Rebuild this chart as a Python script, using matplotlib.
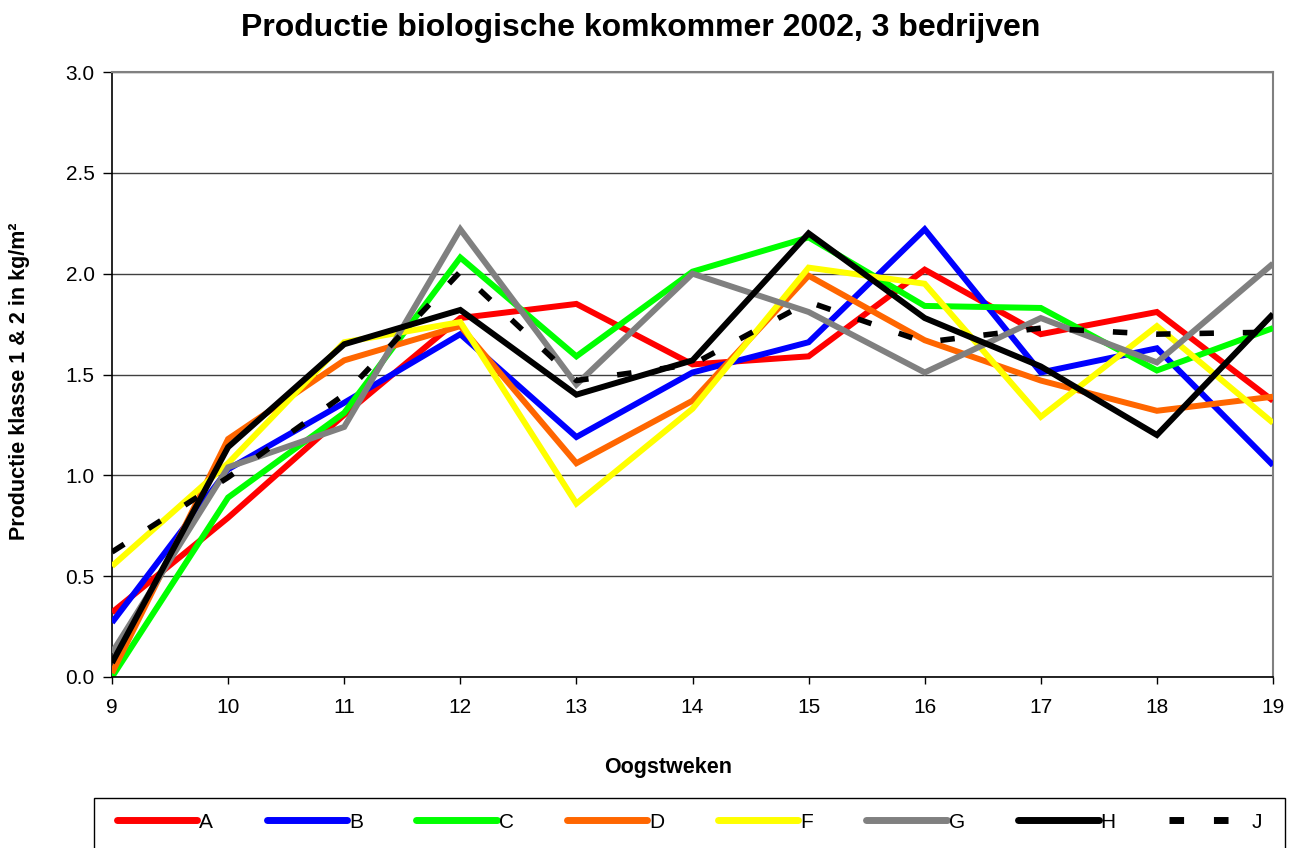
import matplotlib
matplotlib.use("Agg")
import matplotlib.pyplot as plt
from matplotlib.lines import Line2D
from matplotlib.patches import Rectangle

weeks = [9, 10, 11, 12, 13, 14, 15, 16, 17, 18, 19]
A = [0.32, 0.79, 1.30, 1.78, 1.85, 1.55, 1.59, 2.02, 1.70, 1.81, 1.37]
B = [0.27, 1.03, 1.36, 1.70, 1.19, 1.51, 1.66, 2.22, 1.51, 1.63, 1.05]
C = [0.00, 0.89, 1.31, 2.08, 1.59, 2.01, 2.18, 1.84, 1.83, 1.52, 1.73]
D = [0.02, 1.18, 1.57, 1.74, 1.06, 1.37, 1.99, 1.67, 1.47, 1.32, 1.39]
F = [0.55, 1.06, 1.66, 1.76, 0.86, 1.33, 2.03, 1.95, 1.29, 1.74, 1.26]
G = [0.12, 1.04, 1.24, 2.22, 1.45, 2.00, 1.81, 1.51, 1.78, 1.56, 2.05]
H = [0.07, 1.14, 1.65, 1.82, 1.40, 1.57, 2.20, 1.78, 1.54, 1.20, 1.80]
J = [0.62, 0.99, 1.40, 2.01, 1.47, 1.55, 1.86, 1.66, 1.73, 1.70, 1.71]

series_names = ["A", "B", "C", "D", "F", "G", "H", "J"]
series_values = [A, B, C, D, F, G, H, J]
series_colors = ["#ff0000", "#0000ff", "#00ff00", "#ff6600", "#ffff00", "#808080", "#000000", "#000000"]

yticks = [0.0, 0.5, 1.0, 1.5, 2.0, 2.5, 3.0]

plt.rcParams['font.family'] = ['Liberation Sans', 'DejaVu Sans']

fig = plt.figure(figsize=(12.94, 8.48), dpi=100)
ax = fig.add_axes([112/1294, 1-677/848, (1273-112)/1294, (677-72)/848])

for name, vals, col in zip(series_names, series_values, series_colors):
    if name == "J":
        ax.plot(weeks, vals, color=col, lw=4.0, linestyle=(0, (2.6, 5.2)),
                dash_capstyle='butt', label=name, zorder=5)
    else:
        ax.plot(weeks, vals, color=col, lw=4.3, solid_joinstyle='miter',
                solid_capstyle='butt', label=name, zorder=4)

ax.set_xlim(9, 19)
ax.set_ylim(0, 3.0)
ax.set_xticks(weeks)
ax.set_xticklabels([str(w) for w in weeks], fontsize=15)
ax.set_yticks(yticks)
ax.set_yticklabels([f"{t:.1f}" for t in yticks], fontsize=15)
ax.yaxis.grid(True, color="#404040", lw=1.0)
ax.set_axisbelow(True)
ax.tick_params(axis='x', direction='out', length=5, width=1, color='black', pad=10)
ax.tick_params(axis='y', direction='out', length=6.5, width=1, color='black', pad=6)
for s in ['top', 'right']:
    ax.spines[s].set_color('#808080')
    ax.spines[s].set_linewidth(1.5)
for s in ['left', 'bottom']:
    ax.spines[s].set_color('black')
    ax.spines[s].set_linewidth(1.2)
ax.spines['bottom'].set_zorder(6)

fig.text(641/1294, 1-28/848, "Productie biologische komkommer 2002, 3 bedrijven",
         ha='center', va='center', fontsize=23, fontweight='bold')
fig.text(668/1294, 1-768/848, "Oogstweken", ha='center', va='center',
         fontsize=15.5, fontweight='bold')
fig.text(20/1294, 1-381/848, "Productie klasse 1 & 2 in kg/m²", ha='center', va='center',
         rotation=90, fontsize=15.5, fontweight='bold')

# legend frame
fig.patches.append(Rectangle((94/1294, 1-852/848), (1285-94)/1294, (852-798)/848,
                             transform=fig.transFigure, facecolor='white',
                             edgecolor='black', lw=1.0, zorder=0))

leg_handles = []
for name, col in zip(series_names, series_colors):
    if name == "J":
        leg_handles.append(Line2D([], [], color=col, lw=5, linestyle=(0, (2.1, 4.3)),
                                  dash_capstyle='butt'))
    else:
        leg_handles.append(Line2D([], [], color=col, lw=5, solid_capstyle='round'))
leg = fig.legend(leg_handles, series_names, loc='center left',
                 bbox_to_anchor=(117/1294, 1-822/848, (1262-117)/1294, 0.0),
                 mode='expand', ncol=8, fontsize=15, frameon=False,
                 handlelength=3.85, handletextpad=0.1,
                 borderaxespad=0, borderpad=0.0, columnspacing=1.0)

fig.savefig("out.png", dpi=100)
